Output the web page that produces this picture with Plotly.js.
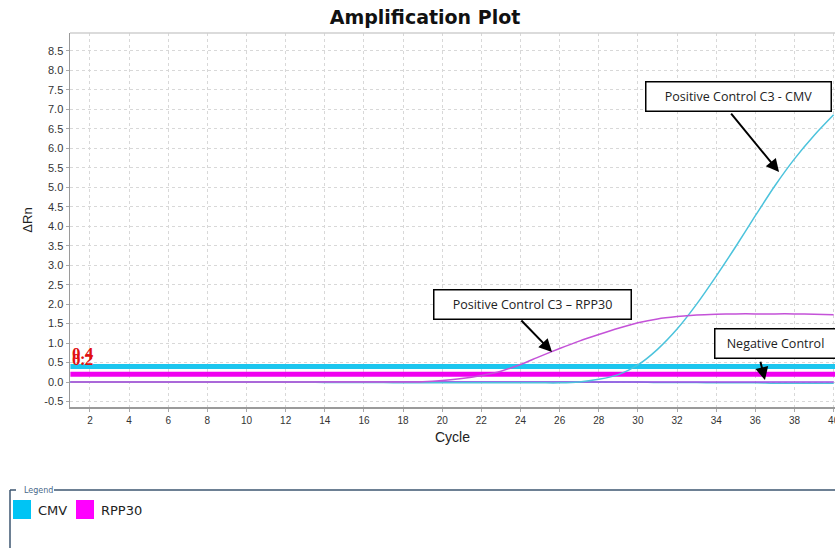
<!DOCTYPE html>
<html>
<head>
<meta charset="utf-8">
<script src="https://cdn.plot.ly/plotly-3.0.1.min.js"></script>
<style>html,body{margin:0;padding:0;background:#fff;}#chart{width:835px;height:548px;}</style>
</head>
<body>
<div id="chart"></div>
<script>
// ---- data ----
const cycles = [1,2,3,4,5,6,7,8,9,10,11,12,13,14,15,16,17,18,19,20,21,22,23,24,25,26,27,28,29,30,31,32,33,34,35,36,37,38,39,40];
const cmvPositive = [0.00,0.00,0.00,0.00,0.00,0.00,0.00,0.00,0.00,0.00,0.00,0.00,0.00,-0.01,-0.01,-0.01,-0.01,-0.02,-0.02,-0.02,
                     -0.02,-0.02,-0.02,-0.02,-0.02,-0.02,0.00,0.07,0.19,0.44,0.84,1.36,2.00,2.72,3.48,4.27,5.04,5.73,6.33,6.86];
const rppPositive = [0.00,0.00,0.00,0.00,0.00,0.00,0.00,0.00,0.00,0.00,0.00,0.00,0.00,0.00,0.00,0.00,0.00,0.00,0.01,0.04,
                     0.09,0.17,0.28,0.45,0.66,0.86,1.05,1.22,1.38,1.52,1.62,1.68,1.72,1.74,1.75,1.75,1.75,1.75,1.74,1.73];
const cmvNegative = [0.00,0.00,0.00,0.00,0.00,0.00,0.00,0.00,0.00,0.00,0.00,0.00,0.00,0.00,0.00,0.00,0.00,0.00,0.00,0.00,
                     0.00,0.00,0.00,0.00,0.00,0.00,0.00,0.00,0.00,0.00,-0.01,-0.01,-0.01,-0.02,-0.02,-0.02,-0.03,-0.03,-0.03,-0.03];
const rppNegative = [0.00,0.00,0.00,0.00,0.00,0.00,0.00,0.00,0.00,0.00,0.00,0.00,0.00,0.00,0.00,0.00,0.00,0.00,0.00,0.00,
                     0.00,0.00,0.00,0.00,0.00,0.00,0.00,0.00,0.00,0.00,0.00,0.00,0.00,0.00,0.00,0.00,0.00,0.00,0.00,0.00];
const targets = ["CMV", "RPP30"];
const thresholds = [0.4, 0.2];
const thresholdLabels = ["0.4", "0.2"];
const xTicks = [2,4,6,8,10,12,14,16,18,20,22,24,26,28,30,32,34,36,38,40];
const yTicks = [-0.5,0,0.5,1,1.5,2,2.5,3,3.5,4,4.5,5,5.5,6,6.5,7,7.5,8,8.5];
const yTickText = ["-0.5","0.0","0.5","1.0","1.5","2.0","2.5","3.0","3.5","4.0","4.5","5.0","5.5","6.0","6.5","7.0","7.5","8.0","8.5"];
const callouts = [
  {text: "Positive Control C3 - CMV", bx: 35.16, by: 7.32, tx: 34.70, ty: 6.93, hx: 37.21, hy: 5.39, w: 180},
  {text: "Positive Control C3 \u2013 RPP30", bx: 24.59, by: 2.00, tx: 23.97, ty: 1.62, hx: 25.61, hy: 0.77, w: 192},
  {text: "Negative Control", bx: 37.05, by: 0.98, tx: 36.24, ty: 0.56, hx: 36.49, hy: 0.05, w: 116}
];

// ---- styles ----
const thrColors = ["#1cc6ef", "#f000f0"];
const legendColors = ["#00c4f4", "#ff00ff"];
const curveColors = ["#4cc3dc", "#c452d8"];
const negColors = ["#4cc3dc", "#a248e4"];

const L = 70, T = 33, W = 835, H = 548, PB = 407, PR = 835;
const px = x => (x - L) / (PR - L);
const py = y => (PB - y) / (PB - T);

const traces = [];
thresholds.forEach((t, i) => {
  traces.push({x: [cycles[0], cycles[cycles.length-1] + 0.5], y: [t, t], mode: 'lines',
    line: {color: thrColors[i], width: 5}, hoverinfo: 'skip', showlegend: false});
});
traces.push({x: cycles, y: cmvNegative, mode: 'lines', line: {color: negColors[0], width: 1.5, shape: 'spline'}, showlegend: false});
traces.push({x: cycles, y: rppNegative, mode: 'lines', line: {color: negColors[1], width: 1.5, shape: 'spline'}, showlegend: false});
traces.push({x: cycles, y: cmvPositive, mode: 'lines', line: {color: curveColors[0], width: 1.5, shape: 'spline', smoothing: 0.8}, showlegend: false});
traces.push({x: cycles, y: rppPositive, mode: 'lines', line: {color: curveColors[1], width: 1.5, shape: 'spline', smoothing: 0.8}, showlegend: false});

const annotations = [];
thresholds.forEach((t, i) => {
  annotations.push({x: 1.0, y: t, xref: 'x', yref: 'y', text: '<b>' + thresholdLabels[i] + '</b>', showarrow: false,
    xanchor: 'left', yanchor: 'bottom', yshift: i === 0 ? 1 : 3, xshift: 0,
    font: {family: 'Liberation Serif, DejaVu Serif, serif', size: 17, color: '#e01010'}});
});
callouts.forEach(c => {
  annotations.push({x: c.hx, y: c.hy, xref: 'x', yref: 'y', ax: c.tx, ay: c.ty, axref: 'x', ayref: 'y',
    text: '', showarrow: true, arrowhead: 2, arrowsize: 1.3, arrowwidth: 2, arrowcolor: '#000'});
  annotations.push({x: c.bx, y: c.by, xref: 'x', yref: 'y', text: c.text, showarrow: false,
    width: c.w, height: 24, bgcolor: '#fff', bordercolor: '#000', borderwidth: 1.5, borderpad: 2,
    font: {family: 'Open Sans, Liberation Sans, sans-serif', size: 12.5, color: '#222'}});
});
annotations.push({x: px(22), y: py(490), xref: 'paper', yref: 'paper', text: 'Legend', showarrow: false,
  xanchor: 'left', yanchor: 'middle', font: {family: 'DejaVu Sans, sans-serif', size: 8, color: '#4a6a8a'}});
const legendX = [13, 76];
targets.forEach((name, i) => {
  annotations.push({x: px(legendX[i] + 23), y: py(510), xref: 'paper', yref: 'paper', text: name, showarrow: false,
    xanchor: 'left', yanchor: 'middle', font: {family: 'DejaVu Sans, sans-serif', size: 13, color: '#222'}});
});

const shapes = [
  {type: 'line', xref: 'paper', yref: 'paper', x0: px(10), x1: px(10), y0: py(490), y1: py(560), line: {color: '#3d5670', width: 1.5}},
  {type: 'line', xref: 'paper', yref: 'paper', x0: px(10), x1: px(16), y0: py(490), y1: py(490), line: {color: '#3d5670', width: 1.5}},
  {type: 'line', xref: 'paper', yref: 'paper', x0: px(54), x1: px(840), y0: py(490), y1: py(490), line: {color: '#3d5670', width: 1.5}},
  {type: 'line', xref: 'paper', yref: 'paper', x0: 0, x1: 1, y0: 1, y1: 1, line: {color: '#cfcfcf', width: 1.5}}
];
targets.forEach((name, i) => {
  shapes.push({type: 'rect', xref: 'paper', yref: 'paper', x0: px(legendX[i]), x1: px(legendX[i] + 18),
    y0: py(519), y1: py(500), fillcolor: legendColors[i], line: {width: 0}});
});

const layout = {
  width: W, height: H,
  margin: {l: L, r: W - PR, t: T, b: H - PB, pad: 0},
  paper_bgcolor: '#fff', plot_bgcolor: '#fff',
  title: {text: '<b>Amplification Plot</b>', x: 0.509, xanchor: 'center', y: 0.968, yanchor: 'middle',
    font: {family: 'DejaVu Sans, sans-serif', size: 19, color: '#111'}},
  xaxis: {range: [0.98, 40.07], tickvals: xTicks, ticktext: xTicks.map(String), ticklabeloverflow: 'allow',
    showgrid: true, gridcolor: '#d8d8d8', griddash: 'dot', gridwidth: 1,
    showline: true, linecolor: '#9a9a9a', linewidth: 1.5, mirror: false, zeroline: false,
    ticks: 'outside', ticklen: 3, tickcolor: '#aaa',
    tickfont: {family: 'Liberation Sans, Arial, sans-serif', size: 10, color: '#333'},
    title: {text: 'Cycle', standoff: 7, font: {family: 'Liberation Sans, Arial, sans-serif', size: 14, color: '#222'}}},
  yaxis: {range: [-0.64, 8.96], tickvals: yTicks, ticktext: yTickText,
    showgrid: true, gridcolor: '#d8d8d8', griddash: 'dot', gridwidth: 1,
    showline: true, linecolor: '#9a9a9a', linewidth: 1.5, zeroline: false,
    ticks: 'outside', ticklen: 3, tickcolor: '#aaa',
    tickfont: {family: 'Liberation Sans, Arial, sans-serif', size: 11, color: '#333'},
    title: {text: '\u0394Rn', standoff: 9, font: {family: 'Liberation Sans, Arial, sans-serif', size: 13, color: '#222'}}},
  showlegend: false,
  annotations: annotations,
  shapes: shapes
};

Plotly.newPlot('chart', traces, layout, {displayModeBar: false, staticPlot: true});
</script>
</body>
</html>
